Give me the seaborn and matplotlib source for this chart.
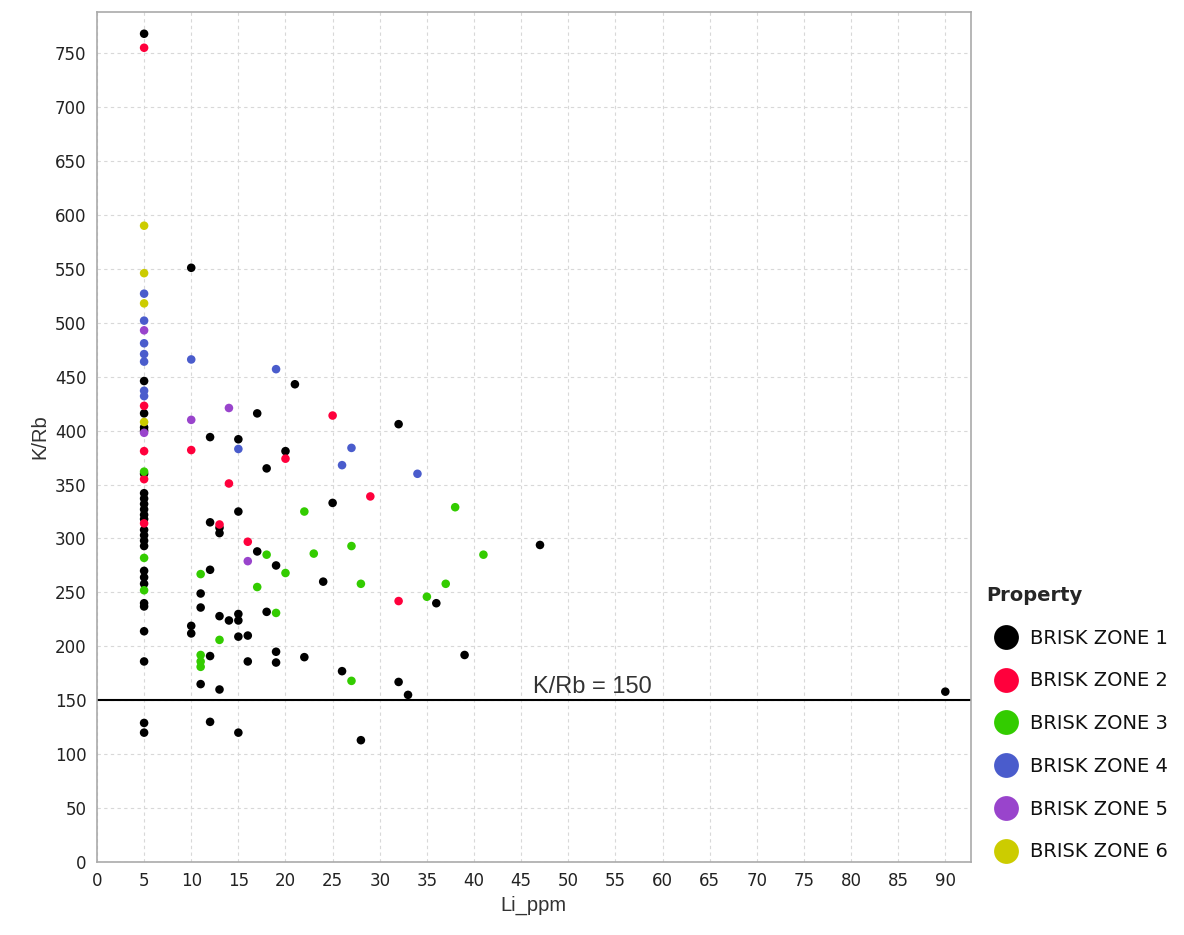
import matplotlib
matplotlib.use("Agg")
import matplotlib.pyplot as plt
import numpy as np
import pandas as pd
import seaborn as sns

# Li_ppm / K/Rb values for each zone
z1_li = [5, 5, 5, 5, 5, 5, 5, 5, 5, 5, 5, 5, 5, 5, 5, 5, 5, 5, 5, 5, 5, 5, 5, 5, 5,
         10, 10, 10, 11, 11, 11, 12, 12, 12, 12, 12, 13, 13, 13, 13, 14,
         15, 15, 15, 15, 15, 15, 16, 16, 17, 17, 18, 18, 19, 19, 19, 20, 21, 22,
         24, 25, 26, 28, 32, 32, 33, 36, 39, 47, 90]
z1_kr = [768, 446, 416, 403, 360, 337, 332, 327, 322, 318, 308, 303, 298, 293,
         270, 264, 258, 240, 237, 214, 186, 129, 120, 342, 400,
         551, 219, 212, 249, 236, 165, 394, 315, 271, 191, 130, 310, 305, 228, 160, 224,
         392, 325, 230, 224, 209, 120, 210, 186, 416, 288, 365, 232, 275, 195, 185, 381, 443, 190,
         260, 333, 177, 113, 406, 167, 155, 240, 192, 294, 158]

z2_li = [5, 5, 5, 5, 5, 10, 13, 14, 16, 20, 25, 29, 32]
z2_kr = [755, 423, 381, 355, 314, 382, 313, 351, 297, 374, 414, 339, 242]

z3_li = [5, 5, 5, 11, 11, 11, 11, 13, 17, 18, 19, 20, 22, 23, 27, 27, 28, 35, 37, 38, 41]
z3_kr = [362, 282, 252, 267, 192, 186, 181, 206, 255, 285, 231, 268, 325, 286, 293, 168,
         258, 246, 258, 329, 285]

z4_li = [5, 5, 5, 5, 5, 5, 5, 10, 15, 19, 26, 27, 34]
z4_kr = [527, 502, 481, 471, 464, 437, 432, 466, 383, 457, 368, 384, 360]

z5_li = [5, 5, 10, 14, 16]
z5_kr = [493, 398, 410, 421, 279]

z6_li = [5, 5, 5, 5]
z6_kr = [590, 546, 518, 408]

zones = ["BRISK ZONE 1", "BRISK ZONE 2", "BRISK ZONE 3",
         "BRISK ZONE 4", "BRISK ZONE 5", "BRISK ZONE 6"]
colors = ["#000000", "#ff003c", "#33cc00", "#4a5ccc", "#9944cc", "#cccc00"]

frames = []
for name, li, kr in zip(zones,
                        [z1_li, z2_li, z3_li, z4_li, z5_li, z6_li],
                        [z1_kr, z2_kr, z3_kr, z4_kr, z5_kr, z6_kr]):
    frames.append(pd.DataFrame({"Li_ppm": li, "K/Rb": kr, "Property": name}))
df = pd.concat(frames, ignore_index=True)

sns.set_style("white")
plt.rcParams['font.family'] = ['DejaVu Sans']

fig = plt.figure(figsize=(11.84, 9.35), dpi=100)
ax = fig.add_axes([0.0819, 0.078, 0.738, 0.909])

sns.scatterplot(data=df, x="Li_ppm", y="K/Rb", hue="Property",
                hue_order=zones, palette=colors, s=38, linewidth=0, ax=ax)

ax.axhline(150, color="black", lw=1.5, zorder=1)
ax.text(52.6, 152, "K/Rb = 150", ha="center", va="bottom", fontsize=17,
        color="#333333", family="Liberation Sans")

ax.set_xlim(0, 92.7)
ax.set_ylim(0, 788)
ax.set_xticks(np.arange(0, 91, 5))
ax.set_yticks(np.arange(0, 751, 50))
ax.grid(True, color="#d8d8d8", ls=(0, (3, 3)), lw=0.8)
ax.set_axisbelow(True)
for sp in ax.spines.values():
    sp.set_color("#aaaaaa")
    sp.set_linewidth(1.2)
ax.tick_params(axis="both", length=4, color="#aaaaaa", labelsize=12,
               labelcolor="#222222", direction="out")
ax.set_xlabel("Li_ppm", fontsize=14.5, color="#333333", family="Liberation Sans")
ax.set_ylabel("K/Rb", fontsize=14.5, color="#333333", family="Liberation Sans")

sns.move_legend(ax, "upper left", bbox_to_anchor=(1.009, 0.334), frameon=False,
                title="Property", fontsize=14, title_fontsize=14,
                markerscale=2.9, labelspacing=1.22, handletextpad=0.25,
                borderaxespad=0, alignment="left")
leg = ax.get_legend()
leg.get_title().set_fontweight("bold")
for t in leg.get_texts():
    t.set_color("#111111")

fig.savefig("out.png", dpi=100)
